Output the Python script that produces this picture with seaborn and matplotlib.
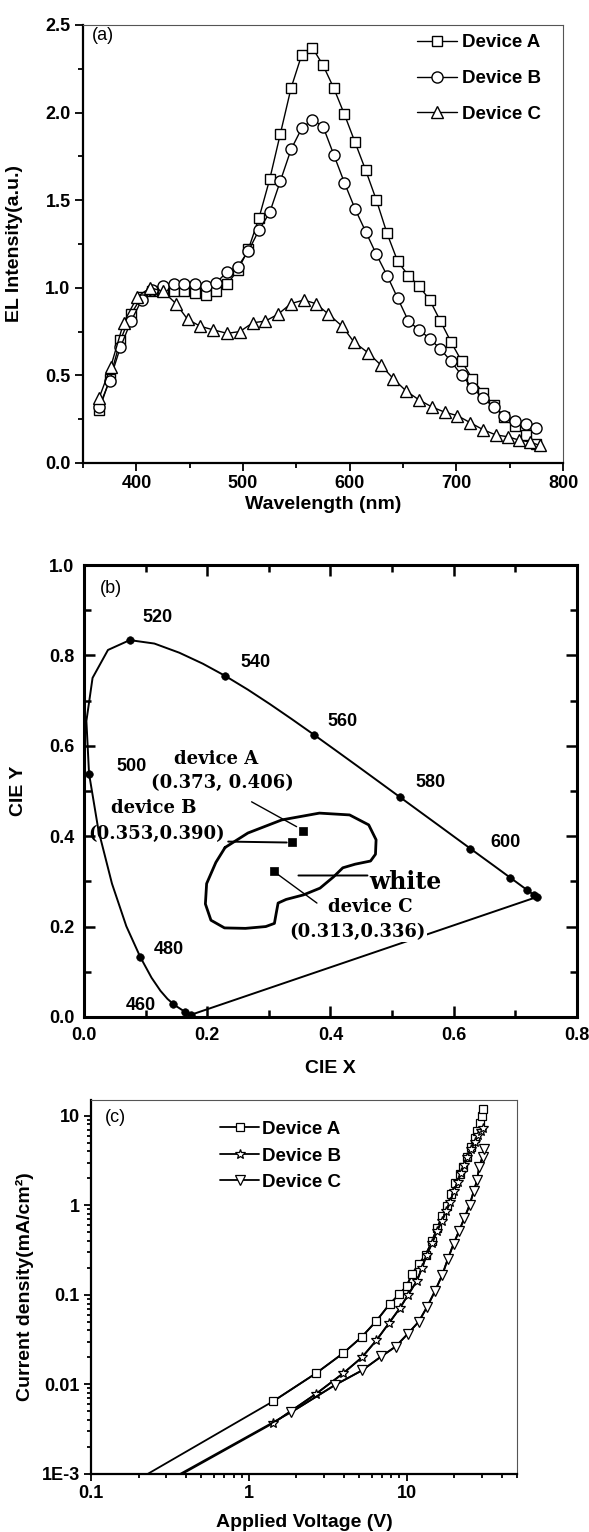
import numpy as np
import pandas as pd
import matplotlib
matplotlib.use("Agg")
import matplotlib.pyplot as plt
import seaborn as sns
from matplotlib.ticker import (MultipleLocator, FormatStrFormatter, FixedLocator,
                               FixedFormatter, LogLocator, NullFormatter)

# ---- datos panel (a): espectros EL ----
wl_ab = [365, 375, 385, 395, 405, 415, 425, 435, 445, 455, 465, 475, 485, 495,
         505, 515, 525, 535, 545, 555, 565, 575, 585, 595, 605, 615, 625, 635,
         645, 655, 665, 675, 685, 695, 705, 715, 725, 735, 745, 755, 765, 775]
el_a = [0.30, 0.48, 0.70, 0.85, 0.95, 0.98, 0.98, 0.98, 0.98, 0.97, 0.96, 0.98, 1.02, 1.10,
        1.22, 1.40, 1.62, 1.88, 2.14, 2.33, 2.37, 2.27, 2.14, 1.99, 1.83, 1.67, 1.50, 1.31,
        1.15, 1.07, 1.01, 0.93, 0.81, 0.69, 0.58, 0.48, 0.40, 0.33, 0.26, 0.21, 0.16, 0.11]
el_b = [0.32, 0.47, 0.66, 0.81, 0.93, 0.99, 1.01, 1.02, 1.02, 1.02, 1.01, 1.03, 1.09, 1.12,
        1.21, 1.33, 1.43, 1.61, 1.79, 1.91, 1.96, 1.92, 1.76, 1.60, 1.45, 1.32, 1.19, 1.07,
        0.94, 0.81, 0.76, 0.71, 0.65, 0.58, 0.50, 0.43, 0.37, 0.32, 0.27, 0.24, 0.22, 0.20]
wl_c = [365, 376, 388, 401, 413, 425, 437, 448, 460, 472, 485, 497, 509, 521, 533, 545,
        557, 568, 580, 593, 604, 617, 629, 641, 653, 665, 677, 689, 701, 713, 725, 737,
        748, 759, 769, 778]
el_c = [0.37, 0.55, 0.80, 0.95, 1.00, 0.98, 0.91, 0.82, 0.78, 0.76, 0.74, 0.75, 0.80, 0.81,
        0.85, 0.91, 0.93, 0.91, 0.85, 0.78, 0.69, 0.63, 0.56, 0.48, 0.41, 0.36, 0.32, 0.29,
        0.27, 0.23, 0.19, 0.16, 0.15, 0.13, 0.12, 0.10]

# ---- datos panel (b): diagrama CIE 1931 ----
locus_nm = [380, 390, 400, 410, 420, 425, 430, 435, 440, 445, 450, 455, 460, 465, 470,
            475, 480, 485, 490, 495, 500, 505, 510, 515, 520, 525, 530, 535, 540, 545,
            550, 555, 560, 565, 570, 575, 580, 585, 590, 595, 600, 605, 610, 615, 620,
            625, 630, 635, 640, 645, 650, 655, 660, 665, 670, 680, 690, 700]
locus_x = [0.1741, 0.1738, 0.1733, 0.1726, 0.1714, 0.1703, 0.1689, 0.1669, 0.1644, 0.1611,
           0.1566, 0.1510, 0.1440, 0.1355, 0.1241, 0.1096, 0.0913, 0.0687, 0.0454, 0.0235,
           0.0082, 0.0039, 0.0139, 0.0389, 0.0743, 0.1142, 0.1547, 0.1929, 0.2296, 0.2658,
           0.3016, 0.3373, 0.3731, 0.4087, 0.4441, 0.4788, 0.5125, 0.5448, 0.5752, 0.6029,
           0.6270, 0.6482, 0.6658, 0.6801, 0.6915, 0.7006, 0.7079, 0.7140, 0.7190, 0.7230,
           0.7260, 0.7283, 0.7300, 0.7311, 0.7320, 0.7334, 0.7344, 0.7347]
locus_y = [0.0050, 0.0049, 0.0048, 0.0048, 0.0051, 0.0058, 0.0069, 0.0086, 0.0109, 0.0138,
           0.0177, 0.0227, 0.0297, 0.0399, 0.0578, 0.0868, 0.1327, 0.2007, 0.2950, 0.4127,
           0.5384, 0.6548, 0.7502, 0.8120, 0.8338, 0.8262, 0.8059, 0.7816, 0.7543, 0.7243,
           0.6923, 0.6589, 0.6245, 0.5896, 0.5547, 0.5202, 0.4866, 0.4544, 0.4242, 0.3965,
           0.3725, 0.3514, 0.3340, 0.3197, 0.3083, 0.2993, 0.2920, 0.2859, 0.2809, 0.2770,
           0.2740, 0.2717, 0.2700, 0.2689, 0.2680, 0.2666, 0.2656, 0.2653]
dot_nm = [400, 440, 460, 480, 500, 520, 540, 560, 580, 600, 620, 640, 660, 700]
locus_lbl = ["520", "540", "560", "580", "600", "500", "480", "460"]

# zona "white" dibujada a mano
white_x = [0.229, 0.266, 0.321, 0.382, 0.431, 0.462, 0.474, 0.473, 0.465, 0.440, 0.420,
           0.405, 0.383, 0.356, 0.328, 0.315, 0.312, 0.309, 0.295, 0.262, 0.228, 0.206,
           0.197, 0.199, 0.214, 0.229]
white_y = [0.375, 0.407, 0.436, 0.451, 0.447, 0.425, 0.392, 0.360, 0.345, 0.338, 0.330,
           0.310, 0.285, 0.270, 0.260, 0.252, 0.230, 0.207, 0.200, 0.196, 0.197, 0.214,
           0.250, 0.295, 0.342, 0.375]

dev_x = [0.355, 0.337, 0.308]
dev_y = [0.412, 0.387, 0.322]

# ---- datos panel (c): J-V ----
v_a = [0.1, 1.43, 2.68, 3.96, 5.2, 6.42, 7.8, 9.0, 10.0, 10.8, 11.9, 13.2, 14.5, 15.6,
       16.8, 18.0, 19.2, 20.3, 21.7, 22.9, 24.2, 25.6, 26.9, 28.0, 29.0, 29.8, 30.5]
j_a = [0.00043, 0.0065, 0.0134, 0.0223, 0.034, 0.051, 0.079, 0.102, 0.126, 0.17, 0.22,
       0.28, 0.40, 0.56, 0.755, 0.975, 1.32, 1.77, 2.21, 2.71, 3.5, 4.5, 5.6, 6.8, 8.2,
       10.0, 12.0]
v_b = [0.1, 1.43, 2.68, 3.96, 5.2, 6.42, 7.7, 9.1, 10.2, 11.6, 12.5, 13.4, 14.5, 15.6,
       16.7, 17.8, 18.9, 19.8, 21.0, 22.0, 23.2, 24.2, 25.6, 26.9, 28.4, 29.4, 30.3]
j_b = [0.00027, 0.0037, 0.0079, 0.0133, 0.020, 0.031, 0.048, 0.072, 0.100, 0.143, 0.20,
       0.28, 0.38, 0.52, 0.67, 0.86, 1.10, 1.44, 1.80, 2.30, 2.85, 3.5, 4.3, 5.1, 6.1,
       6.8, 7.3]
v_c = [0.1, 1.86, 3.5, 5.2, 6.9, 8.5, 10.2, 11.9, 13.5, 15.1, 16.8, 18.2, 19.8, 21.5,
       23.2, 25.0, 26.6, 27.9, 28.8, 30.3, 31.0]
j_c = [0.00028, 0.0049, 0.0098, 0.0143, 0.0205, 0.0264, 0.037, 0.050, 0.074, 0.11, 0.167,
       0.25, 0.37, 0.52, 0.72, 1.0, 1.44, 1.9, 2.7, 3.5, 4.3]

# ---- estilo ----
sns.set_theme(style="ticks", rc={"text.color": "black", "axes.labelcolor": "black",
                                 "xtick.color": "black", "ytick.color": "black",
                                 "axes.edgecolor": "black"})
plt.rcParams["font.family"] = ["Liberation Sans", "DejaVu Sans"]
plt.rcParams["font.weight"] = "bold"
plt.rcParams["axes.labelweight"] = "bold"

fig = plt.figure(figsize=(5.89, 15.32), dpi=100)


def estilo_origin(ax):
    # ejes tipo Origin: izquierda/abajo gruesos, arriba/derecha finos sin ticks
    for s in ["left", "bottom"]:
        ax.spines[s].set_linewidth(1.6)
        ax.spines[s].set_color("black")
    for s in ["top", "right"]:
        ax.spines[s].set_linewidth(0.8)
        ax.spines[s].set_color("#555555")
    ax.tick_params(which="both", direction="out", top=False, right=False,
                   labelsize=13, width=1.3)
    ax.tick_params(which="major", length=6, pad=3)
    ax.tick_params(which="minor", length=3.5)


# ================= (a) =================
ax_a = fig.add_axes([0.141, 0.6978, 0.815, 0.2859])
series_a = [(wl_ab, el_a, "s", 7.8, "Device A"),
            (wl_ab, el_b, "o", 8.0, "Device B"),
            (wl_c, el_c, "^", 8.5, "Device C")]
for wl, el, mk, ms, lab in series_a:
    sns.lineplot(x=wl, y=el, ax=ax_a, color="black", linewidth=1.0, marker=mk,
                 markersize=ms, markerfacecolor="white", markeredgecolor="black",
                 markeredgewidth=1.0, label=lab, errorbar=None)
ax_a.set_xlim(350, 800)
ax_a.set_ylim(0, 2.5)
ax_a.xaxis.set_major_locator(MultipleLocator(100))
ax_a.xaxis.set_minor_locator(MultipleLocator(50))
ax_a.yaxis.set_major_locator(MultipleLocator(0.5))
ax_a.yaxis.set_minor_locator(MultipleLocator(0.25))
ax_a.yaxis.set_major_formatter(FormatStrFormatter("%.1f"))
estilo_origin(ax_a)
ax_a.set_xlabel("Wavelength (nm)", fontsize=14)
ax_a.set_ylabel("EL Intensity(a.u.)", fontsize=14)
ax_a.xaxis.set_label_coords(0.5, -0.075)
ax_a.yaxis.set_label_coords(-0.125, 0.5)
ax_a.text(0.019, 0.995, "(a)", transform=ax_a.transAxes, fontsize=13,
          fontweight="normal", va="top", ha="left")
ax_a.legend(loc="upper left", bbox_to_anchor=(0.696, 0.979), frameon=False,
            borderaxespad=0, borderpad=0, handlelength=2.1, handletextpad=0.3,
            labelspacing=1.0, prop={"weight": "bold", "size": 13.5})

# ================= (b) =================
ax_b = fig.add_axes([0.1426, 0.3362, 0.837, 0.295])
locus = pd.DataFrame({"nm": locus_nm, "x": locus_x, "y": locus_y})
sns.lineplot(data=locus, x="x", y="y", sort=False, estimator=None, color="black",
             linewidth=1.4, ax=ax_b)
# linea de purpuras (extremos del locus)
purp = locus[locus["nm"].isin([locus_nm[0], locus_nm[-1]])]
sns.lineplot(data=purp, x="x", y="y", sort=False, estimator=None, color="black",
             linewidth=1.4, ax=ax_b)
dots = locus[locus["nm"].isin(dot_nm)]
sns.scatterplot(data=dots, x="x", y="y", color="black", edgecolor="black", s=30,
                ax=ax_b, zorder=3)
sns.lineplot(x=white_x, y=white_y, sort=False, estimator=None, color="black",
             linewidth=2.0, ax=ax_b)
sns.scatterplot(x=dev_x, y=dev_y, marker="s", s=40, color="black", edgecolor="black",
                ax=ax_b, zorder=4)

lbl_pos = [(0.120, 0.883), (0.278, 0.785), (0.419, 0.653), (0.562, 0.518),
           (0.684, 0.385), (0.077, 0.555), (0.138, 0.150), (0.092, 0.026)]
for lab, (px, py) in zip(locus_lbl, lbl_pos):
    ax_b.text(px, py, lab, ha="center", va="center", fontsize=13, fontweight="bold")

serif = {"family": ["DejaVu Serif"], "weight": "bold"}
ax_b.text(0.214, 0.571, "device A", ha="center", va="center", fontsize=13, **serif)
ax_b.text(0.224, 0.518, "(0.373, 0.406)", ha="center", va="center", fontsize=13, **serif)
ax_b.text(0.114, 0.462, "device B", ha="center", va="center", fontsize=13, **serif)
ax_b.text(0.117, 0.405, "(0.353,0.390)", ha="center", va="center", fontsize=13, **serif)
ax_b.text(0.522, 0.299, "white", ha="center", va="center", fontsize=17, **serif)
ax_b.text(0.464, 0.243, "device C", ha="center", va="center", fontsize=13, **serif)
ax_b.text(0.443, 0.188, "(0.313,0.336)", ha="center", va="center", fontsize=13,
          bbox=dict(facecolor="white", edgecolor="none", pad=1), zorder=5, **serif)

linea = dict(arrowstyle="-", color="black", lw=1.0, shrinkA=0, shrinkB=0)
ax_b.annotate("", xy=(0.345, 0.421), xytext=(0.272, 0.476), arrowprops=linea)
ax_b.annotate("", xy=(0.329, 0.386), xytext=(0.234, 0.388),
              arrowprops=dict(linea, lw=1.4))
ax_b.annotate("", xy=(0.378, 0.252), xytext=(dev_x[2], dev_y[2]), arrowprops=linea)
ax_b.annotate("", xy=(0.460, 0.313), xytext=(0.348, 0.313),
              arrowprops=dict(linea, lw=1.4))

ax_b.set_xlim(0, 0.8)
ax_b.set_ylim(0, 1.0)
ax_b.xaxis.set_major_locator(MultipleLocator(0.2))
ax_b.xaxis.set_minor_locator(MultipleLocator(0.1))
ax_b.yaxis.set_major_locator(MultipleLocator(0.2))
ax_b.yaxis.set_minor_locator(MultipleLocator(0.1))
ax_b.xaxis.set_major_formatter(FormatStrFormatter("%.1f"))
ax_b.yaxis.set_major_formatter(FormatStrFormatter("%.1f"))
for s in ax_b.spines.values():
    s.set_linewidth(2.2)
    s.set_color("black")
ax_b.tick_params(which="both", direction="in", top=True, right=True, width=1.8,
                 labelsize=13)
ax_b.tick_params(which="major", length=8, pad=7)
ax_b.tick_params(which="minor", length=5)
ax_b.set_xlabel("CIE X", fontsize=14)
ax_b.set_ylabel("CIE Y", fontsize=14)
ax_b.xaxis.set_label_coords(0.5, -0.095)
ax_b.yaxis.set_label_coords(-0.116, 0.5)
ax_b.text(0.032, 0.967, "(b)", transform=ax_b.transAxes, fontsize=13,
          fontweight="normal", va="top", ha="left")

# ================= (c) =================
ax_c = fig.add_axes([0.1545, 0.0379, 0.7233, 0.2441])
ax_c.set_xscale("log")
ax_c.set_yscale("log")
series_c = [(v_a, j_a, "s", 5.5, "Device A"),
            (v_b, j_b, "*", 7, "Device B"),
            (v_c, j_c, "v", 6.5, "Device C")]
for v, j, mk, ms, lab in series_c:
    # tramo completo (el primer punto queda fuera del eje)
    sns.lineplot(x=v, y=j, ax=ax_c, color="black", linewidth=1.3, errorbar=None)
    sns.lineplot(x=v[1:], y=j[1:], ax=ax_c, color="black", linewidth=1.3, marker=mk,
                 markersize=ms, markerfacecolor="white", markeredgecolor="black",
                 markeredgewidth=0.9, label=lab, errorbar=None)
ax_c.set_xlim(0.1, 50)
ax_c.set_ylim(1e-3, 15)
ax_c.xaxis.set_major_locator(FixedLocator([0.1, 1, 10]))
ax_c.xaxis.set_major_formatter(FixedFormatter(["0.1", "1", "10"]))
ax_c.yaxis.set_major_locator(FixedLocator([1e-3, 1e-2, 1e-1, 1, 10]))
ax_c.yaxis.set_major_formatter(FixedFormatter(["1E-3", "0.01", "0.1", "1", "10"]))
for axis in [ax_c.xaxis, ax_c.yaxis]:
    axis.set_minor_locator(LogLocator(base=10, subs=np.arange(2, 10)))
    axis.set_minor_formatter(NullFormatter())
estilo_origin(ax_c)
ax_c.tick_params(which="major", length=5)
ax_c.tick_params(which="minor", length=3)
ax_c.set_xlabel("Applied Voltage (V)", fontsize=14)
ax_c.set_ylabel("Current density(mA/cm²)", fontsize=14)
ax_c.xaxis.set_label_coords(0.5, -0.107)
ax_c.yaxis.set_label_coords(-0.134, 0.5)
ax_c.text(0.033, 0.975, "(c)", transform=ax_c.transAxes, fontsize=13,
          fontweight="normal", va="top", ha="left")
ax_c.legend(loc="upper left", bbox_to_anchor=(0.303, 0.944), frameon=False,
            borderaxespad=0, borderpad=0, handlelength=2.1, handletextpad=0.15,
            labelspacing=0.5, prop={"weight": "bold", "size": 13.5})

fig.savefig("out.png", dpi=100)
